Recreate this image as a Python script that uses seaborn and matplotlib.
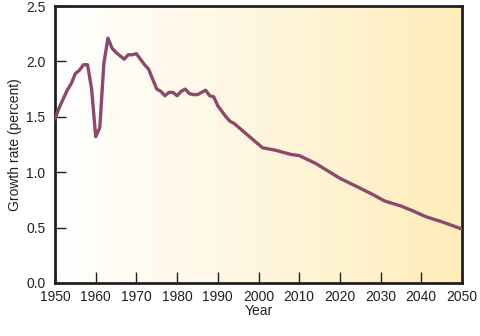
import numpy as np
import pandas as pd
import matplotlib
matplotlib.use("Agg")
import matplotlib.pyplot as plt
from matplotlib.colors import LinearSegmentedColormap
import seaborn as sns

years = [1950, 1951, 1952, 1953, 1954, 1955, 1956, 1957, 1958, 1959,
         1960, 1961, 1962, 1963, 1964, 1965, 1966, 1967, 1968, 1969,
         1970, 1971, 1972, 1973, 1974, 1975, 1976, 1977, 1978, 1979,
         1980, 1981, 1982, 1983, 1984, 1985, 1986, 1987, 1988, 1989,
         1990, 1991, 1992, 1993, 1994, 2001, 2004, 2008, 2010, 2014,
         2020, 2025, 2028, 2031, 2035, 2038, 2041, 2045, 2050]
growth = [1.48, 1.58, 1.66, 1.74, 1.80, 1.89, 1.92, 1.97, 1.97, 1.75,
          1.32, 1.40, 1.98, 2.21, 2.12, 2.08, 2.05, 2.02, 2.06, 2.06,
          2.07, 2.02, 1.97, 1.93, 1.84, 1.75, 1.73, 1.69, 1.72, 1.72,
          1.69, 1.73, 1.75, 1.71, 1.70, 1.70, 1.72, 1.74, 1.69, 1.68,
          1.60, 1.55, 1.50, 1.46, 1.44, 1.22, 1.20, 1.16, 1.15, 1.08,
          0.945, 0.855, 0.80, 0.74, 0.695, 0.65, 0.60, 0.553, 0.487]

x_ticks = [1950, 1960, 1970, 1980, 1990, 2000, 2010, 2020, 2030, 2040, 2050]
y_ticks = [0.0, 0.5, 1.0, 1.5, 2.0, 2.5]

df = pd.DataFrame({"Year": years, "Growth": growth})

sns.set_style("ticks")
plt.rcParams["font.family"] = ["Liberation Sans", "DejaVu Sans"]

fig = plt.figure(figsize=(4.81, 3.36), dpi=100)
ax = fig.add_axes([55 / 481, 53 / 336, 407 / 481, 277 / 336])

cmap = LinearSegmentedColormap.from_list("bg", ["#FFFFFF", "#FFF6DE", "#FEEDBA"])
grad = np.linspace(0, 1, 256).reshape(1, -1)
ax.imshow(grad, extent=[1950, 2050, 0, 2.5], aspect="auto", cmap=cmap, zorder=0)

sns.lineplot(data=df, x="Year", y="Growth", ax=ax, color="#8B4A6C",
             linewidth=2.4, zorder=3)

ax.set_xlim(1950, 2050)
ax.set_ylim(0, 2.5)
ax.set_xticks(x_ticks)
ax.set_yticks(y_ticks)
ax.set_yticklabels([f"{v:.1f}" for v in y_ticks])
ax.tick_params(axis="both", direction="in", length=8, width=1.0,
               color="#231F20", labelsize=10, labelcolor="#231F20")
ax.tick_params(axis="x", pad=5)
ax.tick_params(axis="y", pad=7)
for s in ax.spines.values():
    s.set_linewidth(2)
    s.set_color("#231F20")
    s.set_visible(True)
ax.set_xlabel("Year", fontsize=10, color="#231F20", labelpad=0)
ax.set_ylabel("Growth rate (percent)", fontsize=10, color="#231F20", labelpad=3)

fig.savefig("out.png", dpi=100)
